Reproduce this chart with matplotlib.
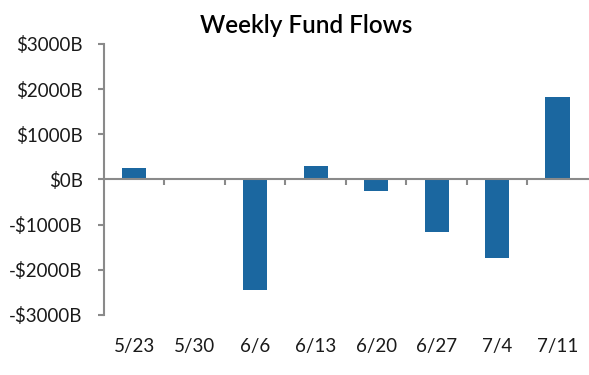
import matplotlib.pyplot as plt
import matplotlib.transforms as mtransforms
import numpy as np

weeks = ["5/23", "5/30", "6/6", "6/13", "6/20", "6/27", "7/4", "7/11"]
flows = [250, 20, -2440, 300, -250, -1155, -1730, 1830]
yticks = [-3000, -2000, -1000, 0, 1000, 2000, 3000]

BAR = "#1b67a0"
AXIS = "#8a8a8a"
plt.rcParams["font.family"] = ["Lato", "DejaVu Sans"]


def money(v):
    return f"-${abs(v)}B" if v < 0 else f"${v}B"


fig = plt.figure(figsize=(5.89, 3.75), dpi=100)
ax = fig.add_axes([0.1766, 0.16, 0.8214, 0.7227])

x = np.arange(len(weeks))
ax.bar(x, flows, width=0.4, color=BAR, zorder=1)

ax.set_xlim(-0.5, len(weeks) - 0.5)
ax.set_ylim(-3000, 3000)

# y axis
ax.set_yticks(yticks)
ax.set_yticklabels([money(v) for v in yticks], fontsize=13.5, color="#1a1a1a")
ax.tick_params(axis="y", direction="out", length=4.3, width=1.5, color=AXIS, pad=11)

# x axis sits at zero, ticks at category boundaries
ax.spines["bottom"].set_position(("data", 0))
ax.set_xticks(np.arange(len(weeks) - 1) + 0.5)
ax.set_xticklabels([])
ax.tick_params(axis="x", direction="out", length=4.3, width=1.5, color=AXIS)
trans = mtransforms.blended_transform_factory(ax.transData, ax.transAxes)
for xi, lab in zip(x, weeks):
    ax.text(xi, -0.118, lab, transform=trans, ha="center", va="center",
            fontsize=13.5, color="#1a1a1a")

for side in ["top", "right"]:
    ax.spines[side].set_visible(False)
for side in ["left", "bottom"]:
    ax.spines[side].set_color(AXIS)
    ax.spines[side].set_linewidth(1.5)
    ax.spines[side].set_zorder(3)

fig.text(0.52, 0.933, "Weekly Fund Flows", ha="center", va="center",
         fontsize=17.5, fontweight="semibold", color="black")

fig.savefig("out.png", dpi=100)
